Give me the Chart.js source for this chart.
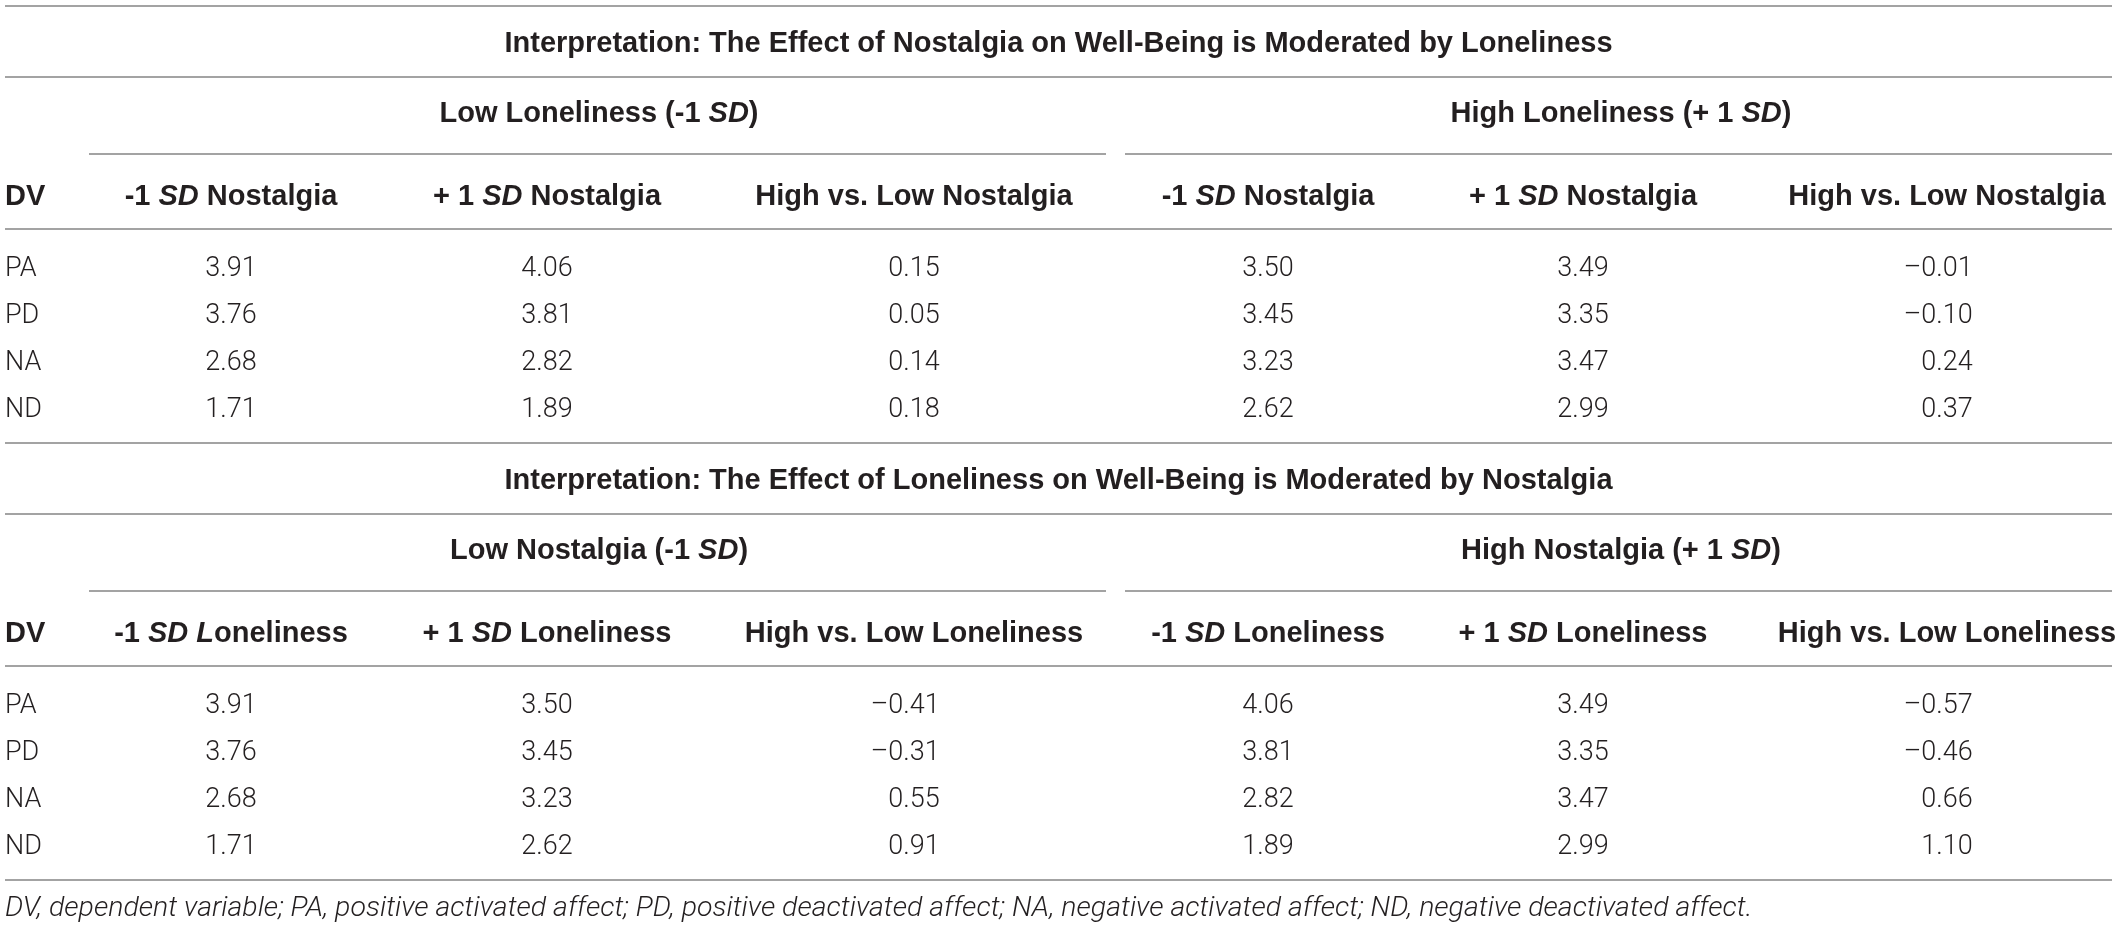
<!DOCTYPE html>
<html>
<head>
<meta charset="utf-8">
<script src="https://cdn.jsdelivr.net/npm/chart.js@4"></script>
<style>
  html, body { margin: 0; padding: 0; background: #fff; }
  #wrap { width: 2117px; height: 928px; position: relative; }
</style>
</head>
<body>
<div id="wrap"><canvas id="tabla"></canvas></div>
<script>
// Datos de la tabla
const dvLabels = ['PA', 'PD', 'NA', 'ND'];

const title1 = 'Interpretation: The Effect of Nostalgia on Well-Being is Moderated by Loneliness';
const groups1 = ['Low Loneliness (-1 *SD*)', 'High Loneliness (+ 1 *SD*)'];
const columns1 = ['-1 *SD* Nostalgia', '+ 1 *SD* Nostalgia', 'High vs. Low Nostalgia',
                  '-1 *SD* Nostalgia', '+ 1 *SD* Nostalgia', 'High vs. Low Nostalgia'];
const lowLonelyLowNost   = [3.91, 3.76, 2.68, 1.71];
const lowLonelyHighNost  = [4.06, 3.81, 2.82, 1.89];
const lowLonelyDiff      = [0.15, 0.05, 0.14, 0.18];
const highLonelyLowNost  = [3.50, 3.45, 3.23, 2.62];
const highLonelyHighNost = [3.49, 3.35, 3.47, 2.99];
const highLonelyDiff     = [-0.01, -0.10, 0.24, 0.37];

const title2 = 'Interpretation: The Effect of Loneliness on Well-Being is Moderated by Nostalgia';
const groups2 = ['Low Nostalgia (-1 *SD*)', 'High Nostalgia (+ 1 *SD*)'];
const columns2 = ['-1 *SD L*oneliness', '+ 1 *SD* Loneliness', 'High vs. Low Loneliness',
                  '-1 *SD* Loneliness', '+ 1 *SD* Loneliness', 'High vs. Low Loneliness'];
const lowNostLowLonely   = [3.91, 3.76, 2.68, 1.71];
const lowNostHighLonely  = [3.50, 3.45, 3.23, 2.62];
const lowNostDiff        = [-0.41, -0.31, 0.55, 0.91];
const highNostLowLonely  = [4.06, 3.81, 2.82, 1.89];
const highNostHighLonely = [3.49, 3.35, 3.47, 2.99];
const highNostDiff       = [-0.57, -0.46, 0.66, 1.10];

const footnote = 'DV, dependent variable; PA, positive activated affect; PD, positive deactivated affect; NA, negative activated affect; ND, negative deactivated affect.';

const sections = [
  { title: title1, groups: groups1, columns: columns1,
    values: [lowLonelyLowNost, lowLonelyHighNost, lowLonelyDiff, highLonelyLowNost, highLonelyHighNost, highLonelyDiff] },
  { title: title2, groups: groups2, columns: columns2,
    values: [lowNostLowLonely, lowNostHighLonely, lowNostDiff, highNostLowLonely, highNostHighLonely, highNostDiff] }
];

// Posiciones (unidades de la escala = px del lienzo)
const W = 2117, H = 928;
const colX = [231, 547, 914, 1268, 1583, 1947];
const groupX = [599, 1621];
const groupRule = [[89, 1106], [1125, 2112]];
const sectionOffset = [0, 437];
const yTopRule = 6, yTitle = 42, yRule1 = 77, yGroup = 112, yGroupRule = 154,
      yHeader = 195, yRule2 = 229, yRows = [266, 313, 360, 407], yRule3 = 443;
const yFoot = 906;
const ruleLeft = 5, ruleRight = 2112;

// Estilos
const FONT = '"Liberation Sans", Arial, sans-serif';
const NUMFONT = 'Roboto, "Liberation Sans", sans-serif';
const boldSize = 29, numSize = 27, footSize = 28.5;
const ink = '#231f20', ruleColor = '#a3a3a3';

function fmt(v) {
  return (v < 0 ? '\u2013' : '') + Math.abs(v).toFixed(2);
}

// Dataset por columna: un punto invisible por celda
const datasets = [];
sections.forEach((sec, s) => {
  datasets.push({
    label: 'DV ' + s, kind: 'dv',
    data: dvLabels.map((l, r) => ({ x: ruleLeft, y: yRows[r] + sectionOffset[s], text: l }))
  });
  sec.values.forEach((col, c) => {
    datasets.push({
      label: 'col ' + s + '-' + c, kind: 'num',
      data: col.map((v, r) => ({ x: colX[c], y: yRows[r] + sectionOffset[s], text: fmt(v) }))
    });
  });
});

function drawRich(ctx, str, x, y, size, weight, align) {
  const parts = str.split('*');
  const fonts = parts.map((p, i) => (i % 2 ? 'italic ' : '') + weight + ' ' + size + 'px ' + FONT);
  let total = 0;
  const widths = parts.map((p, i) => { ctx.font = fonts[i]; const w = ctx.measureText(p).width; total += w; return w; });
  let cx = align === 'center' ? x - total / 2 : x;
  ctx.textAlign = 'left';
  parts.forEach((p, i) => {
    ctx.font = fonts[i];
    ctx.fillText(p, cx, y + size * 0.36);
    cx += widths[i];
  });
}

const tablePlugin = {
  id: 'tablePlugin',
  afterDatasetsDraw(chart) {
    const { ctx } = chart;
    const xs = chart.scales.x, ys = chart.scales.y;
    const px = v => xs.getPixelForValue(v);
    const py = v => ys.getPixelForValue(v);
    ctx.save();
    ctx.fillStyle = ink;
    ctx.strokeStyle = ruleColor;
    ctx.lineWidth = 2;

    const hline = (x0, x1, yv) => {
      ctx.beginPath();
      ctx.moveTo(px(x0), Math.round(py(yv)));
      ctx.lineTo(px(x1), Math.round(py(yv)));
      ctx.stroke();
    };

    hline(ruleLeft, ruleRight, yTopRule);
    sections.forEach((sec, s) => {
      const o = sectionOffset[s];
      drawRich(ctx, sec.title, px(W / 2), py(yTitle + o), boldSize, 'bold', 'center');
      hline(ruleLeft, ruleRight, yRule1 + o);
      sec.groups.forEach((g, i) => {
        drawRich(ctx, g, px(groupX[i]), py(yGroup + o), boldSize, 'bold', 'center');
        hline(groupRule[i][0], groupRule[i][1], yGroupRule + o);
      });
      drawRich(ctx, 'DV', px(ruleLeft), py(yHeader + o), boldSize, 'bold', 'left');
      sec.columns.forEach((c, i) => {
        drawRich(ctx, c, px(colX[i]), py(yHeader + o), boldSize, 'bold', 'center');
      });
      hline(ruleLeft, ruleRight, yRule2 + o);
      hline(ruleLeft, ruleRight, yRule3 + o);
    });

    // Celdas
    chart.data.datasets.forEach((ds, i) => {
      const meta = chart.getDatasetMeta(i);
      ctx.font = '300 ' + numSize + 'px ' + NUMFONT;
      const half = ctx.measureText('0.00').width / 2;
      meta.data.forEach((pt, j) => {
        const t = ds.data[j].text;
        if (ds.kind === 'dv') {
          ctx.textAlign = 'left';
          ctx.fillText(t, pt.x, pt.y + numSize * 0.36);
        } else {
          ctx.textAlign = 'right';
          ctx.fillText(t, pt.x + half, pt.y + numSize * 0.36);
        }
      });
    });

    ctx.font = 'italic 300 ' + footSize + 'px ' + NUMFONT;
    ctx.textAlign = 'left';
    ctx.fillText(footnote, px(ruleLeft), py(yFoot) + footSize * 0.36);
    ctx.restore();
  }
};

new Chart(document.getElementById('tabla'), {
  type: 'scatter',
  data: { datasets: datasets },
  options: {
    responsive: true,
    maintainAspectRatio: false,
    animation: false,
    devicePixelRatio: 1,
    layout: { padding: 0 },
    elements: { point: { radius: 0, hoverRadius: 0 } },
    plugins: { legend: { display: false }, tooltip: { enabled: false } },
    scales: {
      x: { type: 'linear', min: 0, max: W, display: false },
      y: { type: 'linear', min: 0, max: H, reverse: true, display: false }
    }
  },
  plugins: [tablePlugin]
});
</script>
</body>
</html>
